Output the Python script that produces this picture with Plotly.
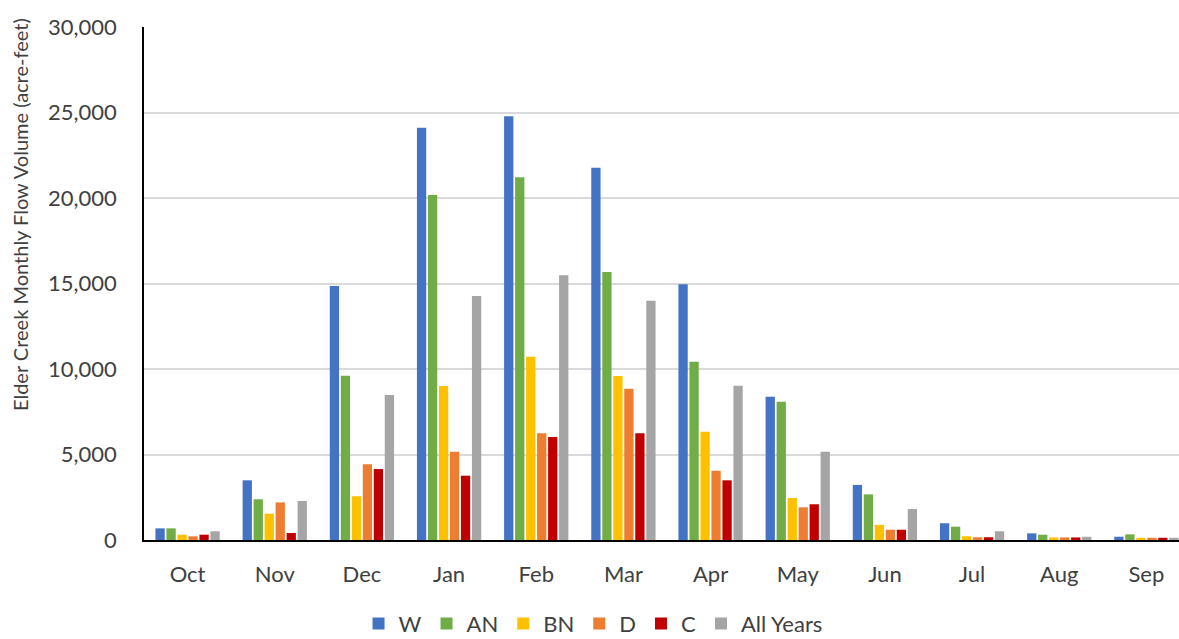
import plotly.graph_objects as go

months = ["Oct", "Nov", "Dec", "Jan", "Feb", "Mar", "Apr", "May", "Jun", "Jul", "Aug", "Sep"]

w_vals   = [680, 3490, 14850, 24110, 24780, 21770, 14950, 8380, 3220, 980, 390, 190]
an_vals  = [680, 2380, 9600, 20180, 21210, 15670, 10430, 8090, 2670, 780, 310, 330]
bn_vals  = [310, 1540, 2560, 9000, 10720, 9590, 6330, 2460, 880, 220, 150, 130]
d_vals   = [215, 2200, 4430, 5160, 6240, 8850, 4050, 1910, 600, 160, 150, 130]
c_vals   = [310, 410, 4150, 3760, 6020, 6240, 3490, 2090, 600, 160, 150, 130]
all_vals = [510, 2280, 8480, 14270, 15480, 13990, 9020, 5160, 1810, 510, 190, 130]

series = [
    ("W", w_vals, "#4472C4"),
    ("AN", an_vals, "#70AD47"),
    ("BN", bn_vals, "#FFC000"),
    ("D", d_vals, "#ED7D31"),
    ("C", c_vals, "#C00000"),
    ("All Years", all_vals, "#A5A5A5"),
]

y_ticks = [0, 5000, 10000, 15000, 20000, 25000, 30000]
y_tick_text = ["0", "5,000", "10,000", "15,000", "20,000", "25,000", "30,000"]
y_title = "Elder Creek Monthly Flow Volume (acre-feet)"

FONT = "Lato, Carlito, 'Liberation Sans', sans-serif"
TXT = "#404040"

fig = go.Figure()
for name, vals, color in series:
    fig.add_trace(go.Bar(name=name, x=list(range(len(months))), y=vals,
                         marker=dict(color=color, line=dict(width=0))))

fig.update_layout(
    width=1179, height=639,
    paper_bgcolor="white", plot_bgcolor="white",
    barmode="group", bargap=0.243, bargroupgap=0.155,
    margin=dict(l=144, r=0, t=27, b=99, autoexpand=False),
    font=dict(family=FONT, size=20, color=TXT),
    showlegend=True,
    legend=dict(orientation="h", xref="container", yref="paper",
                x=0.503, y=-0.163, xanchor="center", yanchor="middle",
                font=dict(size=22, color=TXT), itemwidth=30,
                tracegroupgap=0),
    annotations=[dict(text=y_title, textangle=-90, xref="paper", yref="paper",
                      x=-0.12, y=0.635, xanchor="center", yanchor="middle",
                      showarrow=False, font=dict(size=20, color=TXT))],
)
fig.update_xaxes(
    tickmode="array", tickvals=list(range(len(months))), ticktext=months,
    range=[-0.5, 11.374], showgrid=False, zeroline=False, automargin=False,
    showline=True, linecolor="#000000", linewidth=2,
    ticks="", ticklabelstandoff=14,
    tickfont=dict(size=22, color=TXT),
)
fig.update_yaxes(
    range=[0, 30000], tickmode="array", tickvals=y_ticks, ticktext=y_tick_text,
    showgrid=True, gridcolor="#D9D9D9", gridwidth=1.5, zeroline=False,
    automargin=False,
    showline=True, linecolor="#000000", linewidth=1.5,
    ticks="", ticklabelstandoff=21,
    tickfont=dict(size=22, color=TXT),
)

fig.write_html("out.html", config={"displayModeBar": False},
               post_script="document.body.style.margin='0';document.body.style.overflow='hidden';")
